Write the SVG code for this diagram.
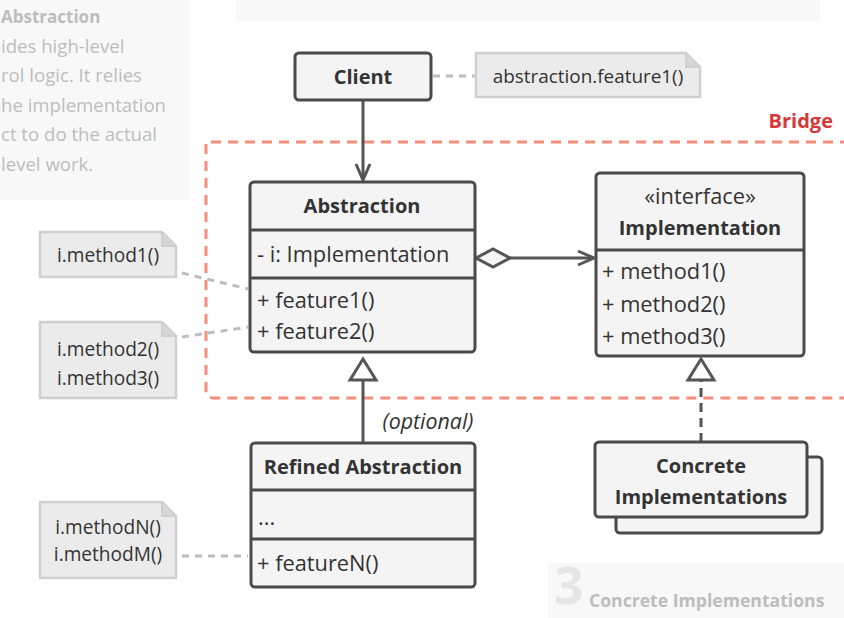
<svg xmlns="http://www.w3.org/2000/svg" width="844" height="618" viewBox="0 0 844 618">
  <style>
    .t { font-family: "Open Sans", "Noto Sans", "Liberation Sans", sans-serif; fill: #333; font-size: 20px; }
    .m { font-size: 21.8px; }
    .n { font-size: 19.1px; }
    .b { font-weight: bold; }
    .c { text-anchor: middle; }
    .box { fill: #f4f4f4; stroke: #4a4a4a; stroke-width: 3; }
    .div { stroke: #4a4a4a; stroke-width: 3; }
    .note { fill: #ebebeb; stroke: #cfcfcf; stroke-width: 2.5; }
    .fold { fill: #d6d6d6; stroke: #cfcfcf; stroke-width: 2; }
    .link { fill: none; stroke: #bdbdbd; stroke-width: 3; stroke-dasharray: 7 6; }
    .edge { fill: none; stroke: #555; stroke-width: 3; }
    .faded { font-family: "Open Sans", "Noto Sans", "Liberation Sans", sans-serif; fill: #bdbdbd; font-size: 18.6px; }
  </style>
  <defs>
    <marker id="open" viewBox="0 0 20 20" refX="18" refY="10" markerWidth="20" markerHeight="20" markerUnits="userSpaceOnUse" orient="auto">
      <path d="M2 3 L18 10 L2 17" fill="none" stroke="#555" stroke-width="3"/>
    </marker>
  </defs>

  <!-- side panels -->
  <rect x="0" y="0" width="190" height="200" fill="#f8f8f8"/>
  <text class="faded b" x="1" y="23" style="font-size:17px">Abstraction</text>
  <text class="faded" x="1" y="53">ides high-level</text>
  <text class="faded" x="1" y="82">rol logic. It relies</text>
  <text class="faded" x="1" y="112">he implementation</text>
  <text class="faded" x="1" y="141">ct to do the actual</text>
  <text class="faded" x="1" y="171">level work.</text>
  <rect x="236" y="0" width="584" height="22" fill="#f8f8f8"/>
  <rect x="548" y="563" width="296" height="55" fill="#f8f8f8"/>
  <text x="554" y="604" font-family="'Open Sans', 'Liberation Sans', sans-serif" font-weight="bold" font-size="52" fill="#e6e6e6">3</text>
  <text class="faded b" x="589" y="607" style="font-size:17.6px">Concrete Implementations</text>

  <!-- bridge boundary -->
  <text class="t b" x="833" y="128" text-anchor="end" style="fill:#d9383a">Bridge</text>
  <path d="M850 142 H206 V390 Q206 398 214 398 H850" fill="none" stroke="#f78d7a" stroke-width="3" stroke-dasharray="10 7"/>

  <!-- connectors -->
  <g id="connectors">
    <path class="link" d="M433 76 H476"/>
    <path class="link" d="M182 273 L248 289"/>
    <path class="link" d="M182 337 L248 327"/>
    <path class="link" d="M182 556 H248"/>
    <path class="edge" d="M363 100 V180" marker-end="url(#open)"/>
    <path class="edge" d="M510 258 H594" marker-end="url(#open)"/>
    <path d="M476 258 L493 249 L510 258 L493 267 Z" fill="#f4f4f4" stroke="#555" stroke-width="3"/>
    <path class="edge" d="M363 443 V380"/>
    <path d="M363 359 L376 380 L350 380 Z" fill="#fff" stroke="#555" stroke-width="3"/>
    <path class="edge" d="M701 442 V380" stroke-dasharray="9 6"/>
    <path d="M701 359 L714 380 L688 380 Z" fill="#fff" stroke="#555" stroke-width="3"/>
    <text class="t c" x="428" y="429" style="font-size:21.4px;font-style:italic">(optional)</text>
  </g>

  <g id="client">
    <rect class="box" x="295" y="53" width="136" height="47" rx="4"/>
    <text class="t b c" x="363" y="84">Client</text>
  </g>

  <g id="note-client">
    <path class="note" d="M476 53 H686 L700 67 V97 H476 Z"/>
    <path class="fold" d="M686 53 V67 H700"/>
    <text class="t c" x="588" y="83" style="font-size:18.9px">abstraction.feature1()</text>
  </g>

  <g id="abstraction">
    <rect class="box" x="250" y="182" width="225" height="170" rx="4"/>
    <line class="div" x1="250" y1="230" x2="475" y2="230"/>
    <line class="div" x1="250" y1="278" x2="475" y2="278"/>
    <text class="t b c" x="362" y="213">Abstraction</text>
    <text class="t m" x="257" y="262">- i: Implementation</text>
    <text class="t m" x="257" y="308">+ feature1()</text>
    <text class="t m" x="257" y="339">+ feature2()</text>
  </g>

  <g id="implementation">
    <rect class="box" x="596" y="173" width="208" height="183" rx="4"/>
    <line class="div" x1="596" y1="250" x2="804" y2="250"/>
    <text class="t m c" x="700" y="204">«interface»</text>
    <text class="t b c" x="700" y="235">Implementation</text>
    <text class="t m" x="602" y="279">+ method1()</text>
    <text class="t m" x="602" y="312">+ method2()</text>
    <text class="t m" x="602" y="344">+ method3()</text>
  </g>

  <g id="refined-abstraction">
    <rect class="box" x="251" y="443" width="224" height="144" rx="4"/>
    <line class="div" x1="251" y1="490" x2="475" y2="490"/>
    <line class="div" x1="251" y1="539" x2="475" y2="539"/>
    <text class="t b c" x="363" y="474">Refined Abstraction</text>
    <text class="t m" x="258" y="525">...</text>
    <text class="t m" x="257" y="571">+ featureN()</text>
  </g>

  <g id="concrete-implementations">
    <rect class="box" x="616" y="457" width="206" height="76" rx="4"/>
    <rect class="box" x="595" y="442" width="212" height="75" rx="4"/>
    <text class="t b c" x="701" y="473">Concrete</text>
    <text class="t b c" x="701" y="504">Implementations</text>
  </g>

  <g id="note-method1">
    <path class="note" d="M40 232 H162 L176 246 V277 H40 Z"/>
    <path class="fold" d="M162 232 V246 H176"/>
    <text class="t n c" x="108" y="262">i.method1()</text>
  </g>

  <g id="note-method23">
    <path class="note" d="M40 322 H162 L176 336 V398 H40 Z"/>
    <path class="fold" d="M162 322 V336 H176"/>
    <text class="t n c" x="108" y="356">i.method2()</text>
    <text class="t n c" x="108" y="385">i.method3()</text>
  </g>

  <g id="note-methodNM">
    <path class="note" d="M40 502 H162 L176 516 V578 H40 Z"/>
    <path class="fold" d="M162 502 V516 H176"/>
    <text class="t n c" x="108" y="534">i.methodN()</text>
    <text class="t n c" x="108" y="561">i.methodM()</text>
  </g>
</svg>
